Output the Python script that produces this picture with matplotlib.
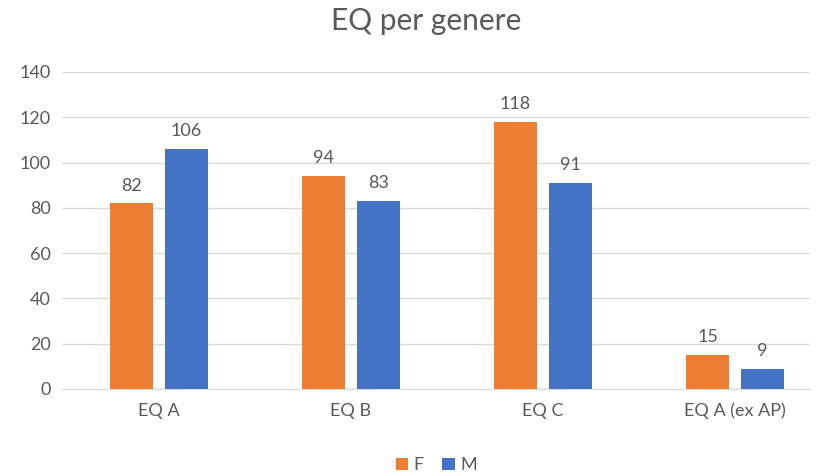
import numpy as np
import matplotlib
matplotlib.use("Agg")
import matplotlib.pyplot as plt

plt.rcParams['font.family'] = ['Lato', 'DejaVu Sans']

categories = ["EQ A", "EQ B", "EQ C", "EQ A (ex AP)"]
f_values = [82, 94, 118, 15]
m_values = [106, 83, 91, 9]

orange = "#ED7D31"
blue = "#4472C4"
gray_txt = "#595959"

fig = plt.figure(figsize=(8.23, 4.73), dpi=100)
ax = fig.add_axes([0.075, 0.1776, 0.909, 0.6702])

x = np.arange(len(categories))
w = 0.224
off = 0.143
bars_f = ax.bar(x - off, f_values, w, color=orange, label="F", zorder=3)
bars_m = ax.bar(x + off, m_values, w, color=blue, label="M", zorder=3)

for bars in (bars_f, bars_m):
    for b in bars:
        ax.annotate(str(int(b.get_height())), (b.get_x() + b.get_width() / 2, b.get_height()),
                    xytext=(0, 7), textcoords="offset points", ha="center", va="bottom",
                    fontsize=13, color=gray_txt)

ax.set_ylim(0, 140)
ax.set_yticks(range(0, 141, 20))
ax.set_xlim(-0.505, 3.39)
ax.set_xticks(x)
ax.set_xticklabels(categories)
ax.grid(axis="y", color="#D9D9D9", linewidth=1, zorder=0)
for s in ["top", "right", "left"]:
    ax.spines[s].set_visible(False)
ax.spines["bottom"].set_color("#D9D9D9")
ax.tick_params(axis="both", length=0, labelsize=13, colors=gray_txt)
ax.tick_params(axis="x", pad=10)
ax.tick_params(axis="y", pad=8)

fig.suptitle("EQ per genere", fontsize=21.5, color=gray_txt, x=0.518, y=0.985)
fig.legend(loc="lower center", bbox_to_anchor=(0.53, -0.035), ncol=2, frameon=False,
           fontsize=13, labelcolor=gray_txt, handlelength=0.7, handleheight=0.7,
           handletextpad=0.3, columnspacing=1.0)

fig.savefig("out.png", dpi=100)
